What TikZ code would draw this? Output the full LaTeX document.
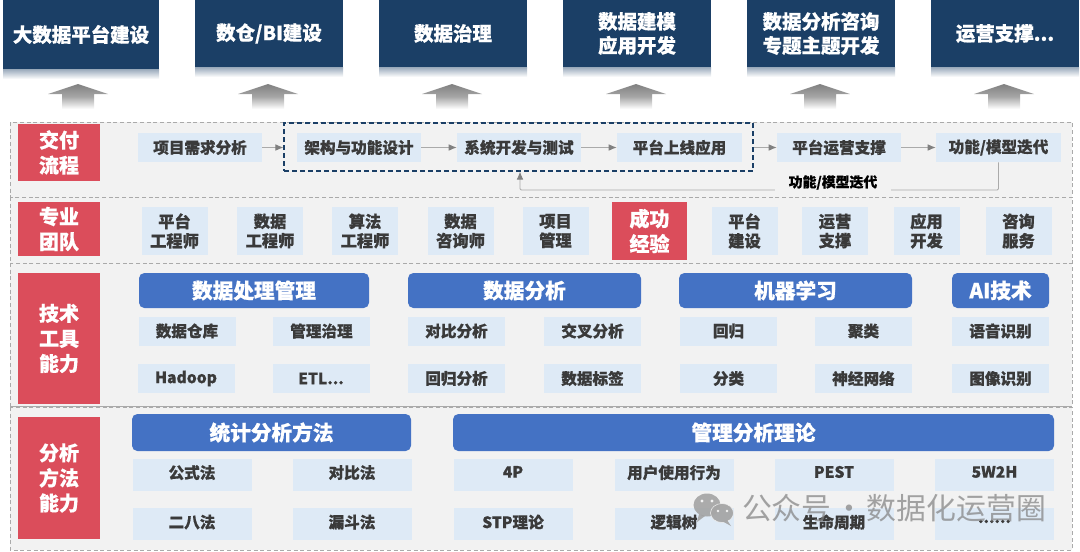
\documentclass[tikz,border=0pt]{standalone}
\usepackage{fontspec}
\setmainfont{Noto Sans CJK SC}[BoldFeatures={FakeBold=0.6}]
\usepackage{xcolor}
\usepackage{tikz}
\usetikzlibrary{arrows.meta,positioning,calc}
\definecolor{marine}{RGB}{27,63,102}
\definecolor{bleu}{RGB}{68,114,196}
\definecolor{ciel}{RGB}{222,234,246}
\definecolor{rouge}{RGB}{219,77,91}
\definecolor{fond}{RGB}{242,242,242}
\definecolor{encre}{RGB}{58,58,58}
\definecolor{gristrait}{RGB}{170,170,170}
\tikzset{
  cellule/.style={fill=ciel,text=encre,font=\bfseries\fontsize{11.7}{14.5}\selectfont,align=center,inner sep=0pt},
  titre/.style={fill=bleu,text=white,rounded corners=4pt,font=\bfseries\fontsize{15.5}{18}\selectfont,inner sep=0pt},
  etiquette/.style={fill=rouge,text=white,font=\bfseries\fontsize{15}{18.8}\selectfont,align=center,inner sep=0pt},
  sommet/.style={fill=marine,text=white,font=\bfseries\fontsize{14.6}{18}\selectfont,align=center,inner sep=0pt},
  bande/.style={fill=fond,draw=gristrait,densely dashed,line width=0.6pt},
  flux/.style={draw=gristrait,line width=0.7pt,-{Latex[length=6pt,width=5pt,color=gray]}}
}
\newcommand{\bloc}[7]{%
  \node[#1,minimum width=#5*0.75pt,minimum height=#6*0.75pt] (#2) at (#3,#4) {#7};}
\newcommand{\montee}[1]{%
  \shade[top color=gray,bottom color=white,middle color=gray!70]
    (#1,84)--(#1+30,94)--(#1+16,94)--(#1+16,109)--(#1-16,109)--(#1-16,94)--(#1-30,94)--cycle;}
\begin{document}
\begin{tikzpicture}[x=0.75pt,y=-0.75pt]
  \useasboundingbox (0,0) rectangle (1080,551);
  % top row
  \foreach \nm/\xc/\yy/\ww/\txt in {a/81/34.5/156/大数据平台建设,b/269/33.5/148/{数仓/BI建设},c/453/33.5/148/数据治理,
      d/637/33.5/148/{数据建模\\应用开发},e/821/33.5/148/{数据分析咨询\\专题主题开发},f/1005/33.5/148/{运营支撑...}}{
    \shade[top color=marine!45,bottom color=white] (\xc-\ww/2,2*\yy) rectangle (\xc+\ww/2,2*\yy+10);
    \bloc{sommet}{top\nm}{\xc}{\yy}{\ww}{2*\yy}{\txt}
  }
  \foreach \xc in {78,268,452,636,820,1004}{\montee{\xc}}
  % bands
  \draw[bande] (10,122) rectangle (1072,197);
  \draw[bande] (10,197) rectangle (1072,263);
  \draw[bande] (10,263) rectangle (1072,406);
  \draw[bande] (10,407) rectangle (1072,550);
  \draw[gristrait,line width=0.8pt] (10,406.5)--(1072,406.5);
  % delivery flow
  \bloc{etiquette}{lbflux}{59}{152.5}{82}{57}{交付\\流程}
  \bloc{cellule}{besoin}{200}{147.5}{124}{29}{项目需求分析}
  \bloc{cellule}{archi}{359}{147.5}{124}{29}{架构与功能设计}
  \bloc{cellule}{devel}{519}{147.5}{124}{29}{系统开发与测试}
  \bloc{cellule}{ligne}{679.5}{147.5}{125}{29}{平台上线应用}
  \bloc{cellule}{exploit}{839}{147.5}{124}{29}{平台运营支撑}
  \bloc{cellule}{iter}{998.5}{147.5}{125}{29}{功能/模型迭代}
  \node[draw=marine,dash pattern=on 3.5pt off 2.5pt,line width=0.8pt,minimum width=469*0.75pt,minimum height=48*0.75pt,inner sep=0pt] (cadre) at (518.5,147) {};
  \draw[flux] (besoin)--(besoin-|cadre.west);
  \draw[flux] (archi)--(devel);
  \draw[flux] (devel)--(ligne);
  \draw[flux] (exploit-|cadre.east)--(exploit);
  \draw[flux] (exploit)--(iter);
  \coordinate (retour) at (520,190);
  \draw[flux,rounded corners=1pt] (iter.south) |- (retour)--(retour|-cadre.south);
  \node[fill=fond,text=black,font=\bfseries\fontsize{10.4}{12}\selectfont,minimum width=116*0.75pt,minimum height=17*0.75pt,inner sep=0pt] (lbretour) at (833,182.5) {功能/模型迭代};
  % team
  \bloc{etiquette}{lbequipe}{59}{229}{82}{54}{专业\\团队}
  \tikzset{cellule/.append style={font=\bfseries\fontsize{12.2}{14.5}\selectfont}}
  \foreach \nm/\xc/\txt in {pa/174.5/平台\\工程师,pb/270/数据\\工程师,pc/365/算法\\工程师,pd/460.5/数据\\咨询师,pe/555.5/项目\\管理,
      pf/744.5/平台\\建设,pg/835/运营\\支撑,ph/926.5/应用\\开发,pi/1018.5/咨询\\服务}{
    \bloc{cellule}{\nm}{\xc}{231}{66}{48}{\txt}
  }
  \bloc{etiquette}{succes}{649.5}{231}{75}{58}{成功\\经验}
  % tools
  \tikzset{cellule/.append style={font=\bfseries\fontsize{11.7}{14.5}\selectfont}}
  \bloc{etiquette}{lbtech}{59}{338.5}{82}{131}{技术\\工具\\能力}
  \bloc{titre}{tdonnees}{254}{290.5}{230}{35}{数据处理管理}
  \bloc{titre}{tanalyse}{524.5}{290.5}{233}{35}{数据分析}
  \bloc{titre}{tmachine}{795.5}{290.5}{233}{35}{机器学习}
  \bloc{titre}{tia}{1000.5}{290.5}{97}{35}{AI技术}
  \foreach \nm/\xc/\yc/\txt in {ta/187/331/数据仓库,tb/321.5/331/管理治理,tc/186/378.5/Hadoop,td/321/378.5/{ETL...},
      te/456.5/331/对比分析,tf/592.5/331/交叉分析,tg/456.5/378.5/回归分析,th/592.5/378.5/数据标签,
      ti/728.5/331/回归,tj/863.5/331/聚类,tk/728.5/378.5/分类,tl/863.5/378.5/神经网络,
      tm/1000.5/331/语音识别,tn/1000.5/378.5/图像识别}{
    \bloc{cellule}{\nm}{\xc}{\yc}{97}{29}{\txt}
  }
  % methods
  \bloc{etiquette}{lbmeth}{59}{478}{82}{122}{分析\\方法\\能力}
  \bloc{titre}{tstat}{271.5}{432.5}{279}{37}{统计分析方法}
  \bloc{titre}{tgest}{753.5}{432.5}{601}{37}{管理分析理论}
  \tikzset{cellule/.append style={text depth=4pt}}
  \foreach \nm/\xc/\yc/\txt in {ma/192/474.5/公式法,mb/352/474.5/对比法,mc/513/474.5/4P,md/674/474.5/用户使用行为,me/834/474.5/PEST,mf/994.5/474.5/5W2H,
      mg/192/524/二八法,mh/352/524/漏斗法,mi/513/524/STP理论,mj/674/524/逻辑树,mk/834/524/生命周期,ml/994.5/524/{......}}{
    \bloc{cellule}{\nm}{\xc}{\yc}{119}{32}{\txt}
  }
  % watermark
  \fill[gray!75,opacity=.85] (707,505) ellipse (13.5 and 11.5);
  \fill[gray!75,opacity=.85] (699,514)--(697,522)--(705,516)--cycle;
  \fill[gray!70,draw=fond,opacity=.95] (722,513) ellipse (11.5 and 9.5);
  \fill[gray!70,opacity=.95] (727,520)--(731,526)--(722,521)--cycle;
  \fill[fond] (702,501) circle (1.7) (712,501) circle (1.7) (718,511) circle (1.4) (727,511) circle (1.4);
  \node[text=gray,text opacity=.7,font=\fontsize{22.4}{26}\selectfont,inner sep=0pt] (filigrane) at (894,508) {公众号\hspace{2pt}·\hspace{2pt}数据化运营圈};
\end{tikzpicture}
\end{document}
